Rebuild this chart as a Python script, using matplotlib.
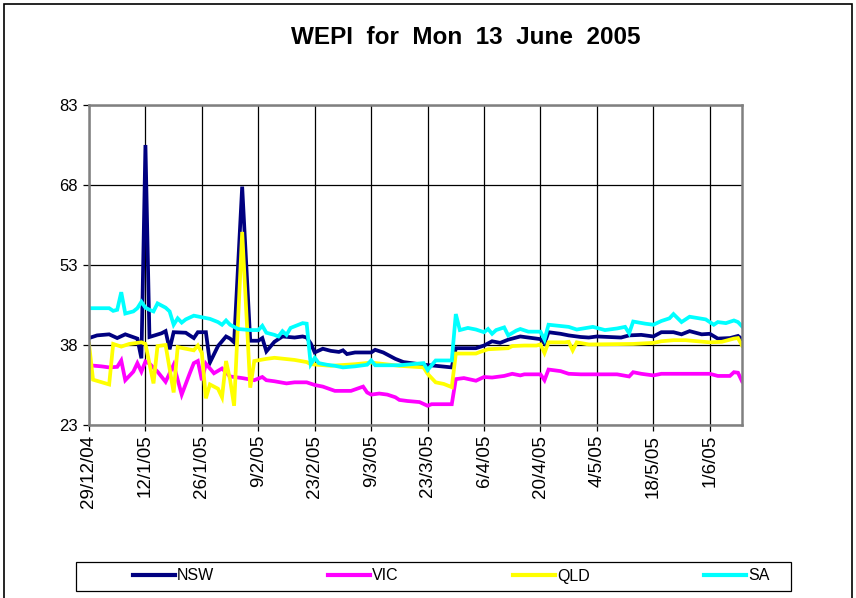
import numpy as np
import matplotlib
matplotlib.use("Agg")
import matplotlib.pyplot as plt
import matplotlib.dates as mdates
from matplotlib.patches import Rectangle

plt.rcParams['font.family'] = ['Liberation Sans', 'DejaVu Sans']

START = np.datetime64('2004-12-29')
title = "WEPI  for  Mon  13  June  2005"
series_names = ["NSW", "VIC", "QLD", "SA"]
series_colors = ["#000080", "#FF00FF", "#FFFF00", "#00FFFF"]
y_ticks = [23, 38, 53, 68, 83]

# day offsets from START and values
nsw_days = [0, 2, 5, 7, 9, 12, 13, 14, 15, 18, 19, 20, 21, 24, 26, 27, 29, 30, 32, 34, 35, 36, 38,
            40, 42, 43, 44, 46, 48, 51, 53, 54, 55, 56, 58, 60, 62, 63, 64, 66, 70, 71, 73, 76, 78,
            80, 83, 86, 90, 91, 96, 98, 100, 102, 104, 107, 110, 112, 113, 114, 117, 119, 122, 124,
            126, 129, 132, 134, 137, 140, 142, 145, 147, 149, 152, 154, 156, 159, 161, 162]
nsw_vals = [39.3, 39.8, 40.0, 39.3, 40.0, 39.2, 35.5, 75.5, 39.5, 40.2, 40.6, 37.2, 40.4, 40.3, 39.3,
            40.4, 40.4, 34.7, 37.8, 39.6, 39.2, 38.5, 67.7, 38.8, 38.8, 39.3, 36.8, 38.6, 39.6, 39.4,
            39.6, 39.4, 38.3, 36.6, 37.3, 36.9, 36.7, 37.0, 36.3, 36.6, 36.6, 37.1, 36.6, 35.4, 34.8,
            34.6, 34.3, 34.1, 33.8, 37.4, 37.4, 37.9, 38.7, 38.4, 39.0, 39.6, 39.3, 39.1, 38.3, 40.4,
            40.1, 39.8, 39.5, 39.4, 39.6, 39.5, 39.4, 39.8, 39.9, 39.6, 40.4, 40.4, 40.0, 40.6, 40.0,
            40.1, 39.2, 39.3, 39.7, 39.1]

vic_days = [0, 3, 5, 7, 8, 9, 11, 12, 13, 14, 15, 17, 19, 21, 23, 25, 26, 27, 28, 29, 31, 33, 35,
            38, 41, 43, 44, 46, 49, 51, 54, 56, 58, 61, 65, 68, 69, 70, 72, 74, 76, 77, 79, 82, 84,
            85, 90, 91, 93, 96, 98, 100, 103, 105, 107, 108, 112, 113, 114, 117, 119, 122, 131, 134,
            135, 137, 140, 142, 154, 156, 159, 160, 161, 162]
vic_vals = [34.2, 34.0, 33.8, 33.9, 35.1, 31.4, 33.0, 34.6, 33.0, 34.9, 34.5, 33.0, 31.1, 34.3, 28.7,
            32.7, 34.6, 35.0, 31.4, 34.5, 32.7, 33.6, 32.1, 31.8, 31.4, 32.0, 31.4, 31.2, 30.8, 31.0,
            31.0, 30.5, 30.2, 29.4, 29.4, 30.2, 29.1, 28.7, 28.9, 28.7, 28.2, 27.7, 27.5, 27.3, 26.6,
            26.9, 26.9, 31.6, 31.8, 31.3, 32.0, 31.9, 32.2, 32.6, 32.3, 32.5, 32.5, 31.4, 33.4, 33.1,
            32.6, 32.5, 32.5, 32.1, 32.9, 32.6, 32.3, 32.6, 32.6, 32.2, 32.2, 32.9, 32.8, 31.2]

qld_days = [0, 1, 5, 6, 8, 10, 13, 14, 16, 17, 19, 21, 22, 26, 27, 28, 29, 30, 32, 33, 34, 35, 36,
            38, 40, 41, 44, 46, 51, 54, 55, 60, 66, 70, 77, 83, 84, 86, 88, 90, 91, 96, 97, 99, 104,
            105, 108, 111, 112, 113, 114, 118, 119, 120, 121, 124, 135, 140, 142, 145, 148, 151, 154,
            157, 159, 160, 161, 162]
qld_vals = [38.2, 31.5, 30.6, 38.2, 37.7, 38.2, 38.5, 38.2, 30.8, 37.8, 38.0, 29.1, 37.6, 37.0, 37.9,
            36.5, 28.0, 30.6, 29.8, 28.2, 35.0, 31.5, 26.6, 59.2, 30.0, 35.0, 35.4, 35.6, 35.2, 34.8,
            34.4, 34.1, 34.4, 34.7, 34.1, 33.8, 32.6, 31.0, 30.7, 30.1, 36.4, 36.4, 36.7, 37.2, 37.4,
            37.8, 37.9, 37.9, 38.1, 36.5, 38.5, 38.5, 38.6, 37.0, 38.5, 38.1, 38.2, 38.4, 38.7, 38.9,
            38.9, 38.7, 38.5, 38.6, 39.0, 39.2, 39.3, 37.9]

sa_days = [0, 5, 6, 7, 8, 9, 11, 12, 13, 14, 15, 16, 17, 19, 20, 21, 22, 23, 24, 26, 28, 30, 32,
           33, 34, 35, 37, 40, 42, 43, 44, 46, 47, 48, 49, 50, 53, 54, 55, 56, 57, 59, 61, 63, 66,
           69, 70, 71, 77, 80, 83, 84, 86, 90, 91, 92, 94, 96, 98, 99, 100, 101, 103, 104, 106, 107,
           109, 112, 113, 114, 119, 121, 125, 128, 131, 133, 134, 135, 138, 140, 142, 144, 145, 147,
           149, 153, 155, 156, 158, 160, 161, 162]
sa_vals = [44.9, 44.9, 44.4, 44.6, 47.9, 43.9, 44.3, 44.9, 46.1, 45.0, 44.6, 44.3, 45.8, 45.0, 44.3,
           41.8, 43.0, 42.2, 42.8, 43.5, 43.2, 42.9, 42.3, 41.8, 42.6, 41.8, 41.0, 40.8, 40.8, 41.6,
           40.3, 39.9, 39.6, 40.6, 39.9, 41.2, 42.1, 42.0, 34.4, 35.6, 34.6, 34.3, 34.1, 33.8, 34.0,
           34.3, 35.1, 34.2, 34.2, 34.4, 34.6, 33.3, 35.1, 35.1, 43.8, 40.8, 41.2, 40.9, 40.4, 41.0,
           40.1, 40.8, 41.3, 39.8, 40.7, 41.0, 40.5, 40.5, 39.0, 41.8, 41.4, 40.9, 41.4, 40.8, 41.1,
           41.4, 40.2, 42.4, 42.0, 41.8, 42.5, 43.0, 43.8, 42.3, 43.3, 42.8, 41.8, 42.3, 42.1, 42.6,
           42.3, 41.5]

all_days = [nsw_days, vic_days, qld_days, sa_days]
all_vals = [nsw_vals, vic_vals, qld_vals, sa_vals]


def to_dates(days):
    return START + np.array(days).astype('timedelta64[D]')


fig = plt.figure(figsize=(8.56, 5.98), dpi=100)
ax = fig.add_axes([89 / 856, 1 - 425 / 598, (742 - 89) / 856, (425 - 105) / 598])

for name, col, d, v in zip(series_names, series_colors, all_days, all_vals):
    ax.plot(to_dates(d), v, color=col, lw=2.7, label=name, solid_joinstyle='miter')

ax.set_ylim(23, 83)
ax.set_yticks(y_ticks)
ax.set_xlim(to_dates([0])[0], to_dates([162])[0])
ax.set_xticks(to_dates(list(range(0, 163, 14))))


def fmt_date(x, pos=None):
    d = mdates.num2date(x)
    return f"{d.day}/{d.month}/{d.year % 100:02d}"


ax.xaxis.set_major_formatter(plt.FuncFormatter(fmt_date))
ax.grid(True, color='black', lw=0.9)
ax.set_axisbelow(True)
ax.tick_params(axis='x', labelrotation=90, labelsize=13.5, length=4, width=0.9, pad=3)
ax.tick_params(axis='y', labelsize=12, length=4, width=0.9, pad=4)
for s in ax.spines.values():
    s.set_color('#808080')
    s.set_linewidth(1.8)

fig.text(466 / 856, 1 - 37 / 598, title, ha='center', va='center',
         fontsize=17.5, fontweight='bold')

# legend box and entries
fig.patches.append(Rectangle((76 / 856, 1 - 591 / 598), (791 - 76) / 856, 29 / 598,
                             transform=fig.transFigure, fill=False, edgecolor='black', lw=0.9))
leg = fig.legend(loc='center left', bbox_to_anchor=(133 / 856, 1 - 576 / 598),
                 ncol=4, frameon=False, fontsize=11.5, handlelength=2.6, handletextpad=0.15,
                 columnspacing=7.15, borderaxespad=0, borderpad=0)
for h in leg.get_lines():
    h.set_linewidth(3)

fig.patches.append(Rectangle((4 / 856, -0.05), 848 / 856, 1.05 - 4 / 598, transform=fig.transFigure,
                             fill=False, edgecolor='black', lw=1.2))

fig.savefig('out.png', dpi=100)
